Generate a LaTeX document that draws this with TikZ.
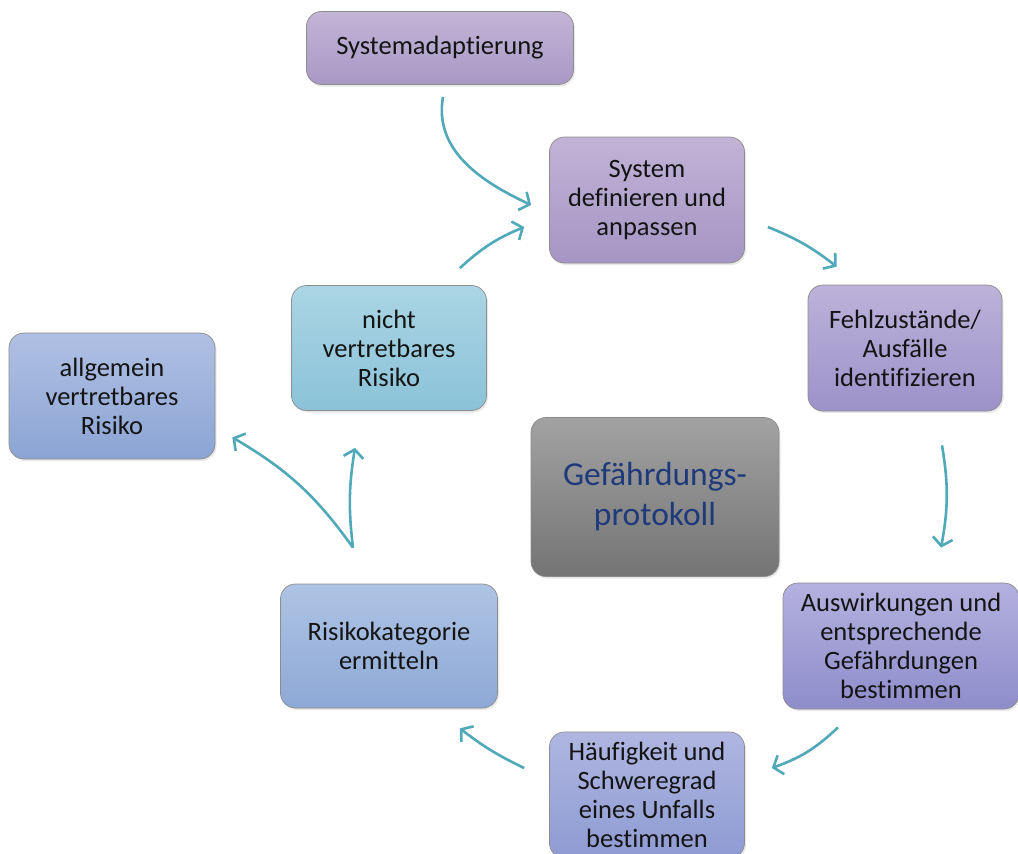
\documentclass[tikz,border=0pt]{standalone}
\usepackage{fontspec}
\setmainfont[Ligatures=NoCommon]{Carlito}
\usepackage{tikz}
\usetikzlibrary{arrows.meta,positioning,calc,shadows}

\definecolor{arteal}{HTML}{4FA9B9}
\definecolor{protoblue}{HTML}{1F3A7A}
\definecolor{adaptT}{HTML}{C2B5D6}\definecolor{adaptB}{HTML}{A898C6}
\definecolor{defT}{HTML}{C1B3D6}\definecolor{defB}{HTML}{A495C4}
\definecolor{fehlT}{HTML}{BCB2D9}\definecolor{fehlB}{HTML}{9C92CA}
\definecolor{protoT}{HTML}{A2A2A2}\definecolor{protoB}{HTML}{747474}
\definecolor{auswT}{HTML}{B4B0DF}\definecolor{auswB}{HTML}{8E8DCB}
\definecolor{haeuT}{HTML}{AFB6E1}\definecolor{haeuB}{HTML}{8E9BD2}
\definecolor{katT}{HTML}{AEC4E4}\definecolor{katB}{HTML}{8EA8D6}
\definecolor{nichtT}{HTML}{AAD5E4}\definecolor{nichtB}{HTML}{8BC2D8}
\definecolor{allgT}{HTML}{B0C0E3}\definecolor{allgB}{HTML}{8BA4D4}

\begin{document}
\begin{tikzpicture}[x=1pt,y=1pt,
  bx/.style={draw=black!45,line width=0.7pt,rounded corners=15pt,align=center,
    text=black!92,font=\fontsize{26.5}{29}\selectfont,inner sep=0pt,
    drop shadow={opacity=0.18,shadow xshift=1.5pt,shadow yshift=-2pt}},
  ar/.style={line width=2.6pt,draw=arteal,
    -{Straight Barb[length=8pt,width=20pt,line width=2.6pt]}}
]
\clip (0,0) rectangle (1018,-854);
% ---- boxes of the cycle ----
\node[bx,minimum width=267,minimum height=73,top color=adaptT,bottom color=adaptB]
  (sysadapt) at (440,-48) {Systemadaptierung};
\node[bx,minimum width=195,minimum height=126,top color=defT,bottom color=defB]
  (sysdef) at (647,-200) {System\\definieren und\\anpassen};
\node[bx,minimum width=194,minimum height=126,top color=fehlT,bottom color=fehlB]
  (fehl) at (905,-348) {Fehlzustände/\\Ausfälle\\identifizieren};
\node[bx,minimum width=248,minimum height=159,top color=protoT,bottom color=protoB,
  text=protoblue,font=\fontsize{33.5}{40}\selectfont]
  (protokoll) at (655,-497) {Gefährdungs-\\protokoll};
\node[bx,minimum width=236,minimum height=126,top color=auswT,bottom color=auswB]
  (auswirk) at (901,-646) {Auswirkungen und\\entsprechende\\Gefährdungen\\bestimmen};
\node[bx,minimum width=195,minimum height=126,top color=haeuT,bottom color=haeuB]
  (haeufig) at (647,-795) {Häufigkeit und\\Schweregrad\\eines Unfalls\\bestimmen};
\node[bx,minimum width=217,minimum height=124,top color=katT,bottom color=katB]
  (risikokat) at (389,-646) {Risikokategorie\\ermitteln};
\node[bx,minimum width=195,minimum height=125,top color=nichtT,bottom color=nichtB]
  (nichtvert) at (389,-348) {nicht\\vertretbares\\Risiko};
\node[bx,minimum width=206,minimum height=126,top color=allgT,bottom color=allgB]
  (allgvert) at (112,-396) {allgemein\\vertretbares\\Risiko};
% ---- arrows ----
\draw[ar] ($(sysadapt.south)+(3,-12)$) to[out=-100,in=155] ($(sysdef.west)+(-18,-5)$);
\draw[ar] ($(nichtvert.north east)+(-27,17)$) to[bend left=10] ($(sysdef.west)+(-25,-27)$);
\draw[ar] ($(sysdef.east)+(23,-27)$) to[bend left=8] ($(fehl.north west)+(29,18)$);
\draw[ar] ($(fehl.south)+(37,-34)$) to[bend left=10] ($(auswirk.north)+(40,35)$);
\draw[ar] ($(auswirk.south)+(-63,-18)$) to[bend left=12] ($(haeufig.east)+(27,27)$);
\draw[ar] ($(haeufig.west)+(-25,27)$) to[bend left=6] ($(risikokat.south east)+(-38,-20)$);
% fork from Risikokategorie
\coordinate (fork) at ($(risikokat.north)+(-36,36)$);
\draw[ar] (fork) to[bend left=8] ($(nichtvert.south)+(-34,-37)$);
\draw[ar] (fork) to[bend right=12] ($(allgvert.south east)+(17,22)$);
\end{tikzpicture}
\end{document}
